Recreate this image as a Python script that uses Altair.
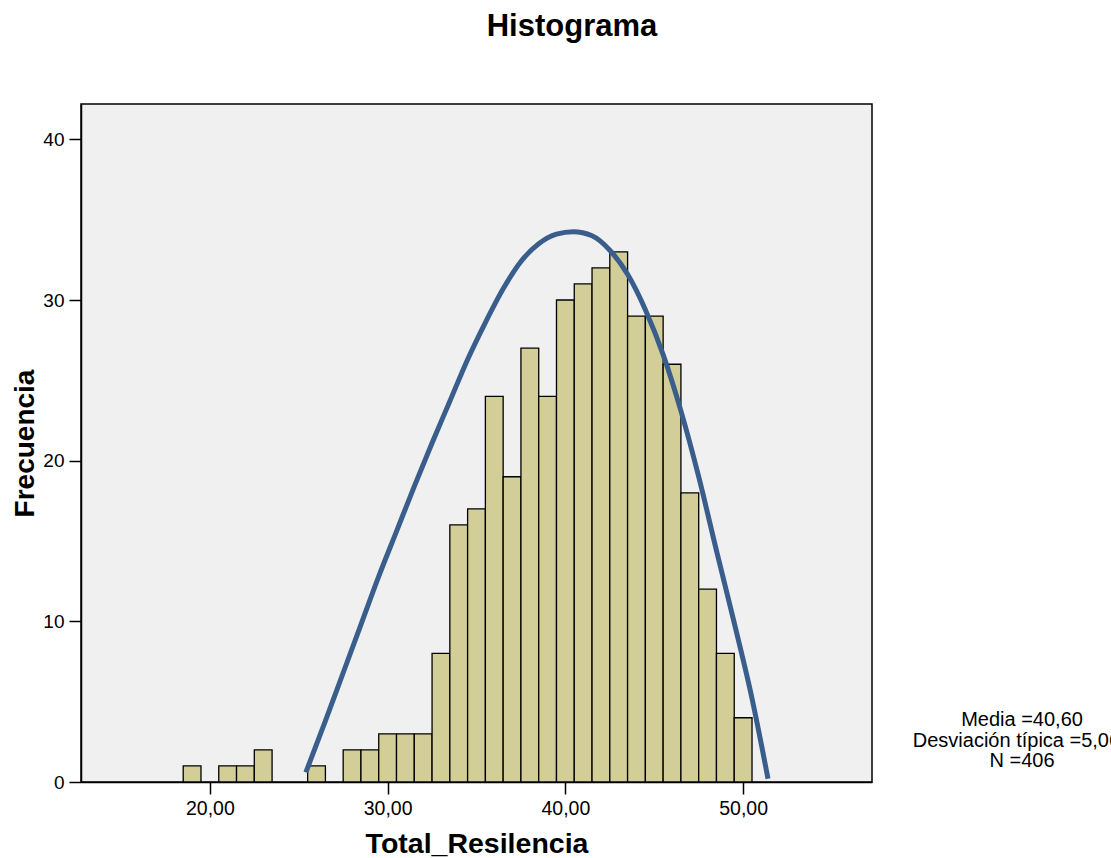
import altair as alt
import pandas as pd

# Histogram bins (centres) and frequencies
bin_centers = [19, 21, 22, 23, 26, 28, 29, 30, 31, 32, 33, 34, 35, 36, 37, 38, 39,
               40, 41, 42, 43, 44, 45, 46, 47, 48, 49, 50]
counts = [1, 1, 1, 2, 1, 2, 2, 3, 3, 3, 8, 16, 17, 24, 19, 27, 24,
          30, 31, 32, 33, 29, 29, 26, 18, 12, 8, 4]

# Fitted curve, points
curve_x = [25.4, 26.5, 27.5, 28.5, 29.5, 30.5, 31.5, 32.5, 33.5, 34.5, 35.5,
           36.5, 37.5, 38.5, 39.5, 40.45, 41.5, 42.5, 43.5, 44.5, 45.5, 46.5,
           47.5, 48.5, 49.5, 50.5, 51.4]
curve_y = [0.6, 3.8, 6.8, 9.8, 12.8, 15.6, 18.4, 21.1, 23.7, 26.3, 28.6,
           30.7, 32.4, 33.5, 34.1, 34.25, 34.0, 33.1, 31.6, 29.4, 26.6, 23.1,
           19.0, 14.4, 9.9, 5.2, 0.2]

x_ticks = [20, 30, 40, 50]
y_ticks = [0, 10, 20, 30, 40]
stats_lines = ["Media =40,60", "Desviación típica =5,062", "N =406"]
title_text = "Histograma"

FONT = "Liberation Sans"

bars_df = pd.DataFrame({
    "start": [c - 0.5 for c in bin_centers],
    "end": [c + 0.5 for c in bin_centers],
    "count": counts,
})
curve_df = pd.DataFrame({"x": curve_x, "y": curve_y})

x_scale = alt.Scale(domain=[12.75, 57.25], nice=False, zero=False)
y_scale = alt.Scale(domain=[0, 42.2], nice=False)

x_axis = alt.Axis(
    values=x_ticks,
    labelExpr="replace(format(datum.value, '.2f'), '.', ',')",
    title="Total_Resilencia",
    grid=False,
    tickSize=12, tickWidth=1.5, tickColor="black",
    domainColor="black", domainWidth=1.5,
    labelFont=FONT, labelFontSize=19.5, labelColor="black", labelPadding=5,
    labelFlush=False, labelOverlap=False,
    titleFont=FONT, titleFontSize=28.5, titleFontWeight="bold", titleColor="black",
    titlePadding=12,
)
y_axis = alt.Axis(
    values=y_ticks,
    format="d",
    title="Frecuencia",
    grid=False,
    tickSize=12, tickWidth=1.5, tickColor="black",
    domainColor="black", domainWidth=1.5,
    labelFont=FONT, labelFontSize=19, labelColor="black", labelPadding=5,
    labelFlush=False, labelOverlap=False,
    titleFont=FONT, titleFontSize=28, titleFontWeight="bold", titleColor="black",
    titlePadding=3,
)

bars = alt.Chart(bars_df).mark_bar(
    fill="#d3ce97", stroke="black", strokeWidth=1.3
).encode(
    x=alt.X("start:Q", scale=x_scale, axis=x_axis),
    x2="end:Q",
    y=alt.Y("count:Q", scale=y_scale, axis=y_axis),
    y2=alt.datum(0),
)

curve = alt.Chart(curve_df).mark_line(
    color="#3a5e8c", strokeWidth=5, interpolate="monotone", strokeCap="butt"
).encode(
    x=alt.X("x:Q", scale=x_scale),
    y=alt.Y("y:Q", scale=y_scale),
)

stats_df = pd.DataFrame({"t": ["\n".join(stats_lines)]})
stats = alt.Chart(stats_df).mark_text(
    font=FONT, fontSize=20, color="black", align="center", baseline="middle",
    lineBreak="\n", lineHeight=20.5,
).encode(
    text="t:N",
    x=alt.value(941),
    y=alt.value(616),
)

title_df = pd.DataFrame({"t": [title_text]})
title = alt.Chart(title_df).mark_text(
    font=FONT, fontSize=31, fontWeight="bold", color="black",
    align="center", baseline="middle",
).encode(
    text="t:N",
    x=alt.value(491),
    y=alt.value(-77),
)

chart = alt.layer(bars, curve, stats, title).properties(
    width=791,
    height=678,
    autosize=alt.AutoSizeParams(type="none"),
    padding={"left": 81, "top": 104, "right": 239, "bottom": 76},
    background="white",
).configure_view(
    fill="#f0f0f0", stroke="black", strokeWidth=1.5
)

chart.save("out.html", embed_options={"renderer": "svg", "actions": False})
